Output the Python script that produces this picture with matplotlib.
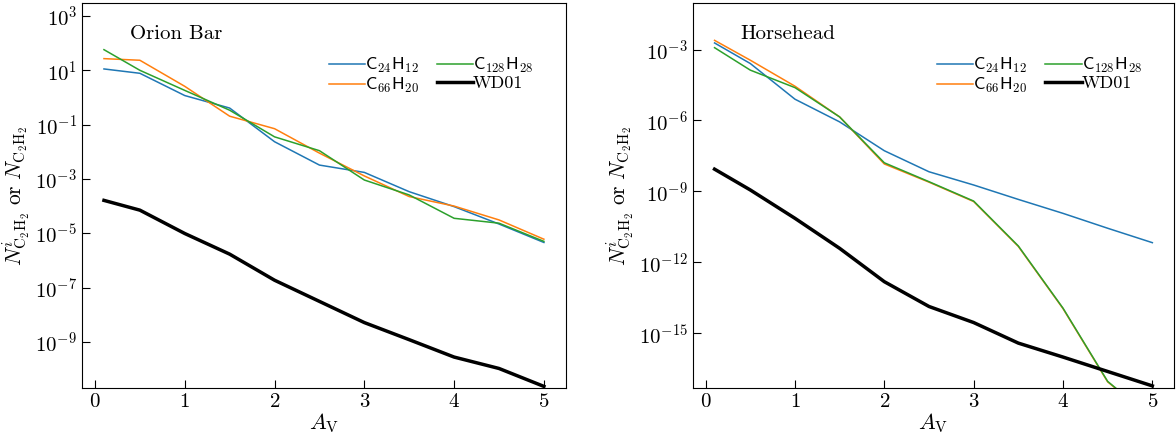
import numpy as np
import matplotlib
matplotlib.use('Agg')
import matplotlib.pyplot as plt

plt.rcParams['font.family'] = 'serif'
plt.rcParams['font.serif'] = ['cmr10', 'DejaVu Serif']
plt.rcParams['mathtext.fontset'] = 'cm'
plt.rcParams['axes.formatter.use_mathtext'] = True
plt.rcParams['axes.unicode_minus'] = False

av = [0.1, 0.5, 1, 1.5, 2, 2.5, 3, 3.5, 4, 4.5, 5]

# Orion Bar (log10 values)
orion_c24 = [1.05, 0.89, 0.07, -0.39, -1.63, -2.49, -2.76, -3.47, -4.02, -4.66, -5.34]
orion_c66 = [1.43, 1.37, 0.41, -0.69, -1.15, -2.05, -2.89, -3.65, -4.0, -4.51, -5.22]
orion_c128 = [1.76, 1.0, 0.26, -0.47, -1.45, -1.96, -3.04, -3.59, -4.45, -4.63, -5.30]
orion_wd01 = [-3.79, -4.15, -5.01, -5.77, -6.73, -7.51, -8.29, -8.92, -9.56, -9.98, -10.64]

# Horsehead
horse_c24 = [-2.72, -3.59, -5.10, -6.06, -7.28, -8.17, -8.73, -9.34, -9.93, -10.56, -11.17]
horse_c66 = [-2.61, -3.45, -4.55, -5.85, -7.84, -8.61, -9.43, -11.33, -13.96, -17.06, -18.6]
horse_c128 = [-2.92, -3.87, -4.61, -5.85, -7.79, -8.59, -9.41, -11.31, -13.94, -17.04, -18.6]
horse_wd01 = [-8.06, -8.94, -10.14, -11.41, -12.82, -13.87, -14.55, -15.42, -16.01, -16.62, -17.23]

labels = [r'$\mathsf{C}_{24}\mathsf{H}_{12}$', r'$\mathsf{C}_{66}\mathsf{H}_{20}$',
          r'$\mathsf{C}_{128}\mathsf{H}_{28}$', 'WD01']

fig = plt.figure(figsize=(11.76, 4.34), dpi=100)
ax1 = fig.add_axes([0.0697, 0.106, 0.4115, 0.887])
ax2 = fig.add_axes([0.589, 0.106, 0.4095, 0.887])

panels = [
    (ax1, 'Orion Bar', [orion_c24, orion_c66, orion_c128, orion_wd01], (2e-11, 3e3)),
    (ax2, 'Horsehead', [horse_c24, horse_c66, horse_c128, horse_wd01], (4.8e-18, 9.3e-2)),
]

for ax, name, series, ylim in panels:
    ax.plot(av, 10 ** np.array(series[0]), color='#1f77b4', lw=1.1, label=labels[0])
    ax.plot(av, 10 ** np.array(series[1]), color='#ff7f0e', lw=1.1, label=labels[1])
    ax.plot(av, 10 ** np.array(series[2]), color='#2ca02c', lw=1.1, label=labels[2])
    ax.plot(av, 10 ** np.array(series[3]), color='black', lw=2.5, label=labels[3])
    ax.set_yscale('log')
    ax.set_ylim(ylim)
    ax.set_xlim(-0.145, 5.245)
    ax.set_xticks([0, 1, 2, 3, 4, 5])
    ax.minorticks_off()
    ax.tick_params(direction='in', labelsize=15, length=6, top=False, right=False)
    ax.set_xlabel(r'$A_{\rm V}$', fontsize=16, labelpad=0)
    ax.set_ylabel(r'$N^{i}_{\rm C_2H_2}\ {\rm or}\ N_{\rm C_2H_2}$', fontsize=15.5, labelpad=2)
    ax.text(0.1, 0.92, name, transform=ax.transAxes, fontsize=15, va='center')
    ax.legend(loc='upper right', bbox_to_anchor=(0.966, 0.905), ncol=2, frameon=False,
              fontsize=13, handlelength=2.0, handletextpad=0.0, columnspacing=1.0,
              labelspacing=0.05)

ax1.set_yticks([1e3, 1e1, 1e-1, 1e-3, 1e-5, 1e-7, 1e-9])
ax2.set_yticks([1e-3, 1e-6, 1e-9, 1e-12, 1e-15])
ax1.minorticks_off()
ax2.minorticks_off()

fig.savefig('out.png', dpi=100)
